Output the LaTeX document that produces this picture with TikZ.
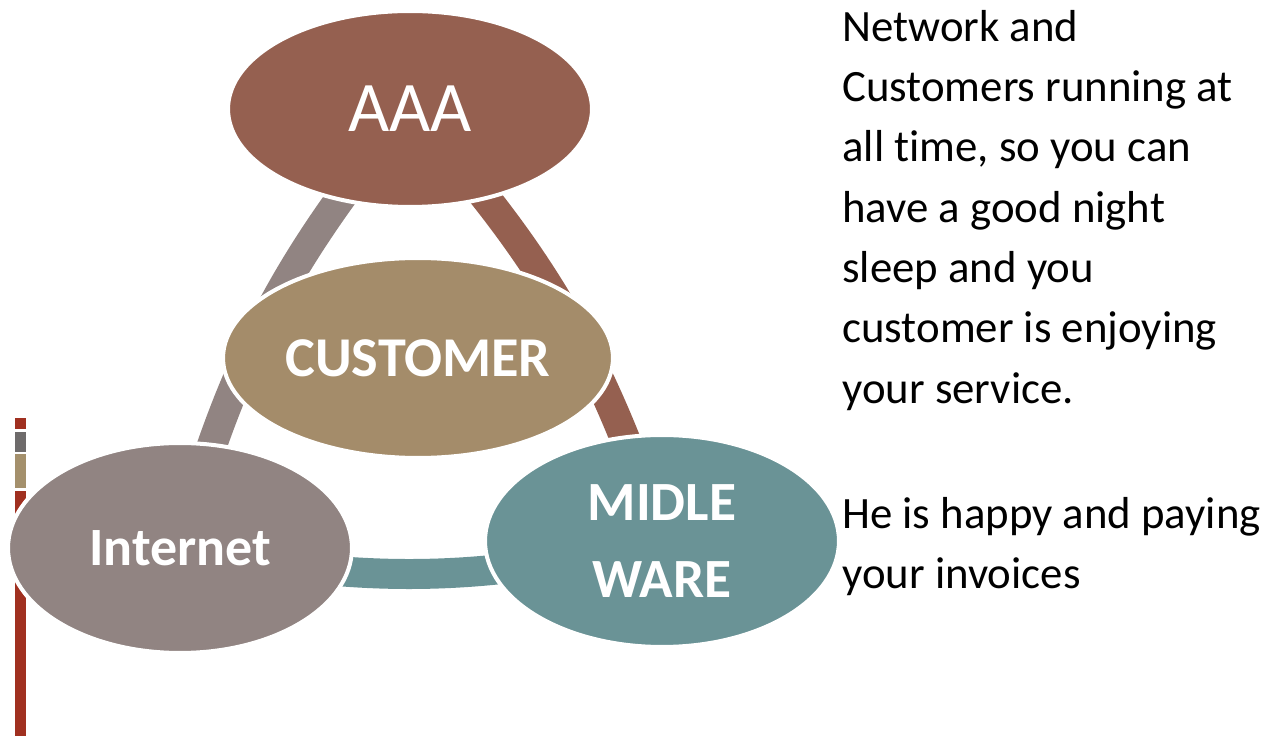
\documentclass[tikz,border=0pt]{standalone}
\usepackage{fontspec}
\setmainfont[Ligatures=NoCommon]{Carlito}
\usetikzlibrary{shapes.geometric}
\pgfdeclarelayer{background}
\pgfsetlayers{background,main}
\definecolor{aaabrown}{RGB}{149,96,80}
\definecolor{custtan}{RGB}{164,140,106}
\definecolor{netgray}{RGB}{145,132,130}
\definecolor{midteal}{RGB}{106,147,150}
\definecolor{barred}{RGB}{160,48,32}
\definecolor{bargray}{RGB}{110,107,107}
\definecolor{bartan}{RGB}{164,144,108}
\begin{document}
\begin{tikzpicture}[x=0.02cm,y=-0.02cm,
    blob/.style={ellipse,draw=white,line width=0.08cm,text=white,inner sep=0pt,align=center},
    band/.style={line width=0.6cm}]
    \useasboundingbox (0,0) rectangle (1269,736);
    % side bar
    \fill[barred] (15,418) rectangle (26,429);
    \fill[bargray] (15,432) rectangle (26,452);
    \fill[bartan] (15,454) rectangle (26,488);
    \fill[barred] (15,491) rectangle (26,736);
    % cycle
    \node[blob,fill=aaabrown,minimum width=7.28cm,minimum height=3.92cm,font=\fontsize{40.5}{46}\selectfont] (aaa) at (410,109) {AAA};
    \node[blob,fill=netgray,minimum width=6.88cm,minimum height=4.2cm,font=\fontsize{30.7}{36}\selectfont\bfseries] (inet) at (180,548) {Internet};
    \node[blob,fill=midteal,minimum width=7.08cm,minimum height=4.24cm,font=\fontsize{31.5}{44}\selectfont\bfseries] (mid) at (662,541) {MIDLE\\WARE};
    \node[blob,fill=custtan,minimum width=7.8cm,minimum height=4.0cm,font=\fontsize{32}{38}\selectfont\bfseries] (cust) at (418,358) {CUSTOMER};
    \begin{pgfonlayer}{background}
        \draw[band,aaabrown] (aaa.center) to[bend left=12] (mid.center);
        \draw[band,midteal] (mid.center) to[bend left=12] (inet.center);
        \draw[band,netgray] (inet.center) to[bend left=12] (aaa.center);
    \end{pgfonlayer}
    % notes
    \node[anchor=north west,inner sep=0pt,align=left,font=\fontsize{25.5}{34.3}\selectfont] (note) at (842,10)
        {Network and\\Customers running at\\all time, so you can\\have a good night\\sleep and you\\customer is enjoying\\your service.\\[37pt]He is happy and paying\\your invoices};
\end{tikzpicture}
\end{document}
